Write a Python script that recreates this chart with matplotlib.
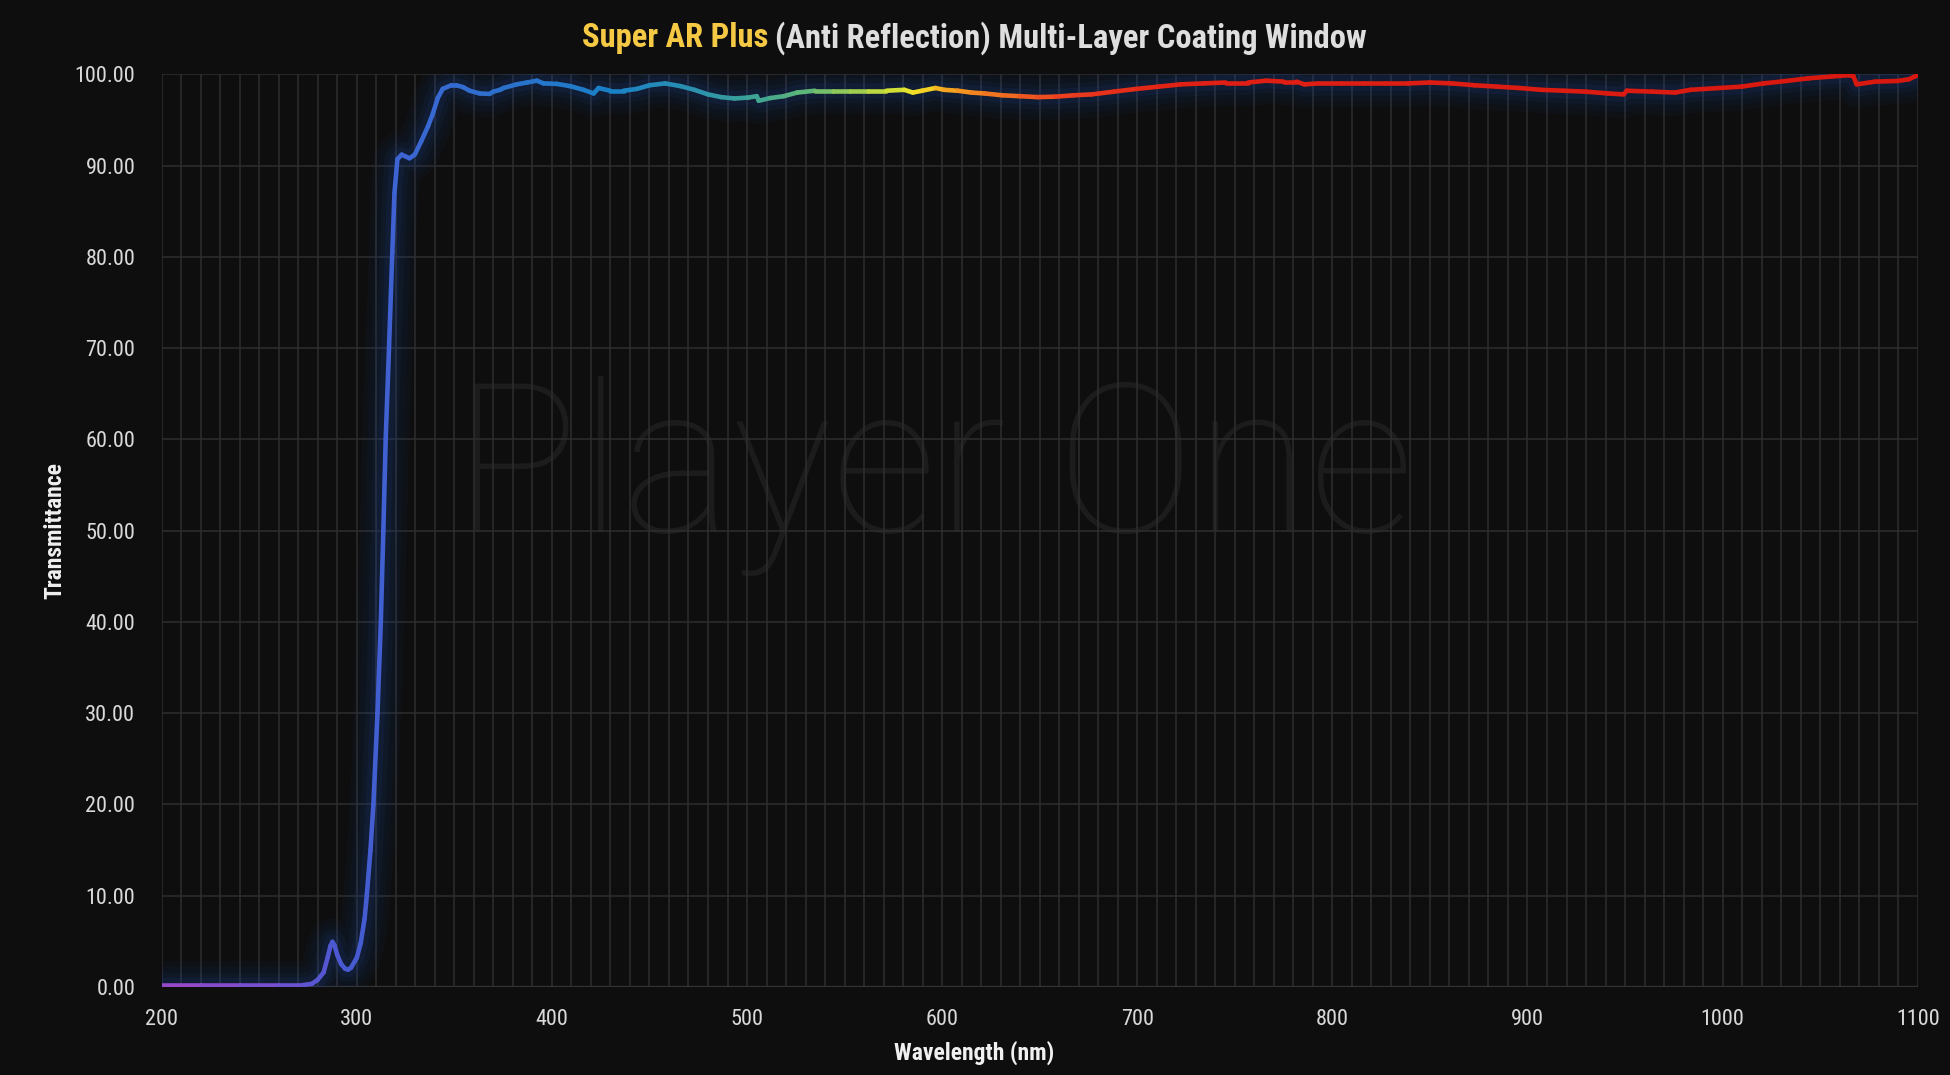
import os, glob
import numpy as np
import matplotlib
matplotlib.use("Agg")
import matplotlib.pyplot as plt
from matplotlib import font_manager as fm
from matplotlib.collections import LineCollection
from matplotlib.colors import LinearSegmentedColormap
from matplotlib.ticker import MultipleLocator, FuncFormatter

# ---------------- data ----------------
wavelength = [200, 220, 240, 260, 272, 277, 280, 283, 285, 286.5, 287.5, 288.5, 290, 292, 294,
              295.5, 297, 300, 302, 304, 305.1, 307, 308.5, 310.6, 312.3, 313.6, 314.8, 316.5,
              318.2, 319.3, 320.8, 323, 325, 327, 329.7, 333.1, 336.5, 339, 341.5, 344, 348.4,
              351, 354.4, 357.8, 363, 368, 370, 373.4, 375.2, 382, 387.2, 392.3, 395.7, 402.6,
              409.4, 416.2, 421.4, 423.9, 429.9, 436.7, 443.6, 450, 458, 466, 473, 480, 486.7,
              493.6, 500.5, 505, 506, 511.9, 518.8, 525.7, 534.8, 544, 553, 562, 571.4, 580.6,
              585, 589.7, 596.6, 601, 608, 615, 621.8, 630.9, 640, 649, 658, 667.5, 676.7, 688,
              699.6, 711, 722.4, 733.9, 745.3, 756.8, 766, 775, 781.6, 785.6, 792.9, 804.3,
              815.7, 827, 838.6, 850, 861.4, 872.8, 884.2, 895.6, 907, 918.5, 929.9, 941.3,
              949.3, 950.9, 964, 975.6, 983.6, 998.4, 1009.8, 1021, 1032.6, 1044, 1055.5,
              1064.6, 1067, 1068.7, 1078.3, 1089.7, 1095.4, 1100]
transmittance = [0.2, 0.2, 0.2, 0.2, 0.2, 0.35, 0.8, 1.6, 3.2, 4.5, 4.95, 4.6, 3.5, 2.5, 2.0,
                 1.9, 2.1, 3.2, 4.8, 7.5, 10.0, 15.0, 20.0, 30.0, 40.0, 50.0, 60.0, 70.0,
                 80.5, 87.0, 90.7, 91.2, 91.0, 90.8, 91.2, 92.7, 94.3, 95.7, 97.4, 98.4, 98.8,
                 98.8, 98.6, 98.2, 97.9, 97.85, 98.1, 98.3, 98.5, 98.9, 99.1, 99.3, 99.0, 98.95,
                 98.7, 98.3, 97.9, 98.5, 98.2, 98.2, 98.4, 98.8, 99.0, 98.7, 98.3, 97.8, 97.5,
                 97.35, 97.45, 97.6, 97.1, 97.4, 97.6, 98.0, 98.2, 98.2, 98.2, 98.2, 98.2, 98.3,
                 98.0, 98.2, 98.5, 98.3, 98.2, 98.0, 97.9, 97.7, 97.6, 97.5, 97.55, 97.7, 97.8,
                 98.1, 98.4, 98.65, 98.9, 99.0, 99.1, 99.1, 99.3, 99.2, 99.2, 98.9, 99.0, 99.0,
                 99.0, 99.0, 99.0, 99.1, 99.0, 98.8, 98.65, 98.5, 98.3, 98.2, 98.1, 97.9,
                 97.8, 98.2, 98.1, 98.0, 98.3, 98.5, 98.65, 99.0, 99.27, 99.56, 99.75,
                 99.9, 99.8, 98.9, 99.2, 99.27, 99.45, 99.9]

x_ticks = [200, 300, 400, 500, 600, 700, 800, 900, 1000, 1100]
y_ticks = [0, 10, 20, 30, 40, 50, 60, 70, 80, 90, 100]

title_highlight = "Super AR Plus"
title_rest = "(Anti Reflection) Multi-Layer Coating Window"
x_label = "Wavelength (nm)"
y_label = "Transmittance"
watermark = "Player One"

# colour stops of the spectral gradient
stop_wl = [200, 260, 290, 330, 380, 430, 470, 500, 530, 560, 585, 600, 625, 660, 720, 1100]
stop_col = ['#9a48c8', '#7050d0', '#4a58d0', '#3a66d2', '#2a72cc', '#1a80c8', '#2a90b0',
            '#3aa098', '#60b878', '#a8d048', '#f0e828', '#f8b020', '#f07820', '#ec4020',
            '#e02015', '#d8180f']

# ---------------- fonts ----------------
def find_font(bold):
    files = set(f.fname for f in fm.fontManager.ttflist)
    for d in ['/usr/share/fonts', '/usr/local/share/fonts', os.path.expanduser('~/.fonts')]:
        files.update(glob.glob(os.path.join(d, '**', '*.[ot]tf'), recursive=True))
    files = sorted(files)
    prefs = ['liberationsansnarrow', 'robotocondensed', 'opensanscondensed',
             'dejavusanscondensed', 'notosanscondensed', 'notosans-condensed']
    for p in prefs:
        for f in files:
            b = os.path.basename(f).lower().replace(' ', '').replace('_', '')
            if not b.startswith(p):
                continue
            is_bold = 'bold' in b
            if 'italic' in b or 'oblique' in b:
                continue
            if bold and is_bold and 'semi' not in b and 'extra' not in b:
                return f
            if not bold and not is_bold and ('regular' in b or b in (p + '.ttf', p + '-regular.ttf')
                                              or b.endswith('condensed.ttf') or b.endswith('narrow.ttf')):
                return f
    return None

fb = find_font(True)
fr = find_font(False)

def fp(size, bold=False):
    path = fb if bold else fr
    if path:
        return fm.FontProperties(fname=path, size=size)
    return fm.FontProperties(family='DejaVu Sans', weight='bold' if bold else 'normal',
                             stretch='condensed', size=size * 0.88)

# ---------------- style ----------------
BG = '#0e0e0e'
GRID = '#2e2e2e'
TXT = '#d9d9d9'
GOLD = '#f6c945'

W, H = 1950, 1075
AX_L, AX_R, AX_T, AX_B = 161.7, 1917.7, 74.3, 987.0
fig = plt.figure(figsize=(W / 100, H / 100), dpi=100, facecolor=BG)
ax = fig.add_axes([AX_L / W, 1 - AX_B / H, (AX_R - AX_L) / W, (AX_B - AX_T) / H])
ax.set_facecolor(BG)
ax.set_xlim(200, 1100)
ax.set_ylim(0, 100)

ax.set_axisbelow(True)
ax.xaxis.set_minor_locator(MultipleLocator(10))
ax.set_xticks(x_ticks)
ax.set_yticks(y_ticks)
ax.grid(True, which='both', axis='x', color=GRID, lw=1.1)
ax.grid(True, which='major', axis='y', color=GRID, lw=1.1)
for s in ax.spines.values():
    s.set_visible(False)
ax.axhline(0, color='#353535', lw=1.6, zorder=1)

ax.tick_params(which='both', length=0)
ax.tick_params(axis='x', pad=16, labelcolor=TXT)
ax.tick_params(axis='y', pad=19, labelcolor=TXT)
ax.yaxis.set_major_formatter(FuncFormatter(lambda v, p: f"{v:.2f}"))
for lab in ax.get_xticklabels() + ax.get_yticklabels():
    lab.set_fontproperties(fp(16))

ax.set_xlabel(x_label, fontproperties=fp(17, True), color='#f0f0f0')
ax.set_ylabel(y_label, fontproperties=fp(17, True), color='#f0f0f0')
# explicit label positions (axes coordinates)
ax.xaxis.set_label_coords((974 - AX_L) / (AX_R - AX_L), -(1053 - AX_B) / (AX_B - AX_T))
ax.xaxis.label.set_va('center')
ax.yaxis.set_label_coords(-(AX_L - 55) / (AX_R - AX_L), 0.5)
ax.yaxis.label.set_va('center')

# watermark
ax.text(0.44, 0.56, watermark, transform=ax.transAxes, ha='center', va='center',
        family=['Roboto', 'DejaVu Sans'], fontweight='light', fontsize=150,
        color='#1c1c1c', zorder=0.1)

# glowing spectral line
x = np.asarray(wavelength, float)
y = np.asarray(transmittance, float)
for lw, a in [(34, 0.05), (26, 0.06), (18, 0.08), (11, 0.10)]:
    ax.plot(x, y, color='#1d4aa8', lw=lw, alpha=a, solid_capstyle='round',
            solid_joinstyle='round', zorder=2)

cmap = LinearSegmentedColormap.from_list(
    'spec', [((w - 200) / 900, c) for w, c in zip(stop_wl, stop_col)])
pts = np.column_stack([x, y]).reshape(-1, 1, 2)
segs = np.concatenate([pts[:-1], pts[1:]], axis=1)
mid = (x[:-1] + x[1:]) / 2
lc = LineCollection(segs, colors=cmap((mid - 200) / 900), linewidths=3.3,
                    capstyle='round', joinstyle='round', zorder=3)
ax.add_collection(lc)

# two-coloured title, centred on the figure
t1 = fig.text(0, 0, title_highlight, fontproperties=fp(23.5, True), color=GOLD,
              ha='left', va='center')
t2 = fig.text(0, 0, title_rest, fontproperties=fp(23.5, True), color='#dedede',
              ha='left', va='center')
fig.canvas.draw()
r = fig.canvas.get_renderer()
w1 = t1.get_window_extent(r).width
w2 = t2.get_window_extent(r).width
gap = 7
total = w1 + gap + w2
x0 = 974 - total / 2
yc = 1 - 38 / H
t1.set_position((x0 / W, yc))
t2.set_position(((x0 + w1 + gap) / W, yc))

fig.savefig('out.png', dpi=100, facecolor=BG)
